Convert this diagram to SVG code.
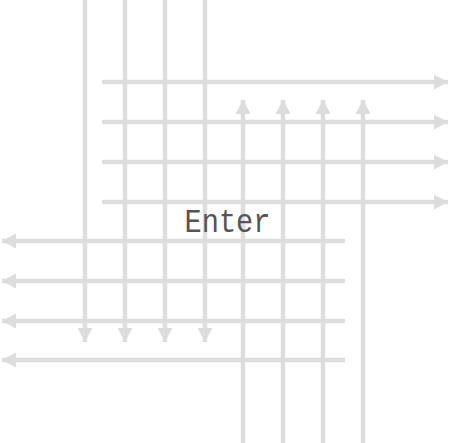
<svg xmlns="http://www.w3.org/2000/svg" width="451" height="443" viewBox="0 0 451 443">
<style>
.c{stroke:#dddddd;stroke-width:4.5;fill:none}
.t{font-family:"Liberation Mono",monospace;font-size:33px;fill:#555555}
</style>
<defs>
<marker id="ah" markerUnits="userSpaceOnUse" markerWidth="18" markerHeight="18" refX="14" refY="8" orient="auto">
<path d="M0,0.5 L14,8 L0,15.5 Z" fill="#dddddd"/>
</marker>
</defs>
<rect width="451" height="443" fill="#ffffff"/>
<g id="connectors">
<path class="c" d="M85,0 V342" marker-end="url(#ah)"/>
<path class="c" d="M125,0 V342" marker-end="url(#ah)"/>
<path class="c" d="M165,0 V342" marker-end="url(#ah)"/>
<path class="c" d="M205,0 V342" marker-end="url(#ah)"/>
<path class="c" d="M243,443 V100" marker-end="url(#ah)"/>
<path class="c" d="M283,443 V100" marker-end="url(#ah)"/>
<path class="c" d="M323,443 V100" marker-end="url(#ah)"/>
<path class="c" d="M363,443 V100" marker-end="url(#ah)"/>
<path class="c" d="M102,82 H448" marker-end="url(#ah)"/>
<path class="c" d="M102,122 H448" marker-end="url(#ah)"/>
<path class="c" d="M102,162 H448" marker-end="url(#ah)"/>
<path class="c" d="M102,202 H448" marker-end="url(#ah)"/>
<path class="c" d="M345,241 H2" marker-end="url(#ah)"/>
<path class="c" d="M345,281 H2" marker-end="url(#ah)"/>
<path class="c" d="M345,321 H2" marker-end="url(#ah)"/>
<path class="c" d="M345,360 H2" marker-end="url(#ah)"/>
</g>
<g id="label">
<text class="t" x="227.5" y="232" text-anchor="middle" textLength="86" lengthAdjust="spacingAndGlyphs">Enter</text>
</g>
</svg>
